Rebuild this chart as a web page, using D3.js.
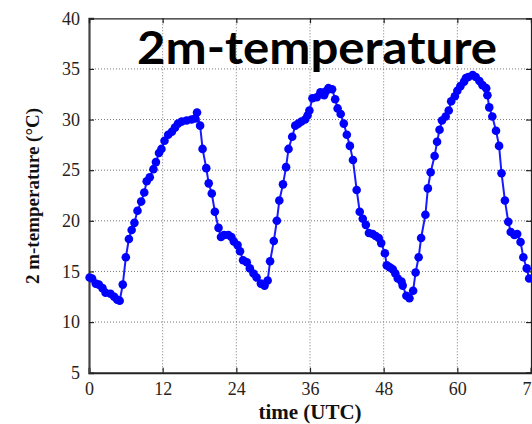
<!DOCTYPE html>
<html><head><meta charset="utf-8">
<script src="https://cdn.jsdelivr.net/npm/d3@7"></script>
<style>body{margin:0;background:#fff;}svg{display:block;}</style>
</head><body>
<svg id="chart" width="532" height="424"></svg>
<script>
const title = "2m-temperature";
const xLabel = "time (UTC)";
const yLabel = "2 m-temperature (°C)";
const xTicks = [0, 12, 24, 36, 48, 60, 72];
const yTicks = [5, 10, 15, 20, 25, 30, 35, 40];
const hours = [0.1,0.5,1.1,1.6,2.2,2.7,3.5,4.1,4.6,5.0,5.5,6.0,6.5,6.95,7.4,7.9,8.5,9.0,9.4,9.9,10.5,10.9,11.4,11.8,12.3,12.9,13.5,14.0,14.5,15.1,15.9,16.7,17.3,17.6,18.1,18.5,19.1,19.5,20.0,20.5,21.1,21.5,22.0,22.7,23.2,23.6,24.2,24.6,25.1,25.7,26.2,26.8,27.3,28.0,28.6,29.1,29.5,30.1,30.6,31.0,31.6,32.1,32.5,33.1,33.6,34.1,34.6,35.2,35.6,35.9,36.4,37.1,37.7,38.3,38.6,39.0,39.6,40.1,40.5,41.0,41.5,42.0,42.5,43.0,43.6,44.1,44.6,45.1,45.6,46.2,46.7,47.2,47.6,48.2,48.5,49.0,49.5,49.9,50.3,50.9,51.1,51.7,52.2,52.8,53.2,53.7,54.1,54.8,55.2,55.65,56.3,56.7,57.1,57.5,58.1,58.6,59.0,59.6,60.0,60.5,61.1,61.4,61.8,62.5,63.0,63.6,64.1,64.7,64.9,65.2,65.7,66.3,66.8,67.2,67.75,68.3,68.7,69.3,69.75,70.3,70.75,71.3,71.7];
const temps = [14.4,14.3,13.8,13.7,13.35,12.9,12.8,12.5,12.2,12.1,13.7,16.4,18.2,19.1,19.8,21.0,21.9,22.8,23.9,24.3,25.1,25.8,26.7,27.1,27.9,28.5,28.8,29.2,29.6,29.8,29.9,30.0,30.1,30.7,29.4,27.1,25.2,23.7,22.7,20.9,19.3,18.4,18.6,18.6,18.4,17.95,17.6,17.0,16.1,15.9,15.3,14.8,14.4,13.8,13.6,14.1,16.0,18.0,20.0,22.0,23.6,25.3,27.1,28.3,29.4,29.6,29.8,30.0,30.4,30.9,32.1,32.2,32.7,32.4,32.8,33.1,33.0,32.0,31.1,30.55,29.6,28.5,27.4,26.0,23.05,20.9,20.2,19.6,18.8,18.7,18.5,18.3,17.8,16.8,15.6,15.4,15.2,14.8,14.3,14.0,13.6,12.6,12.35,13.1,14.9,16.4,18.3,20.6,23.2,24.8,26.4,27.8,29.0,29.9,30.3,30.9,31.8,32.3,32.85,33.3,33.75,34.1,34.2,34.4,34.2,33.8,33.4,33.1,32.4,31.2,30.3,28.9,27.4,24.7,22.0,19.9,18.9,18.6,18.7,17.9,16.4,15.3,14.3];

const data = hours.map((h, i) => ({t: h, v: temps[i]}));
const svg = d3.select("#chart");
const L = 89, R = 531, T = 18.3, B = 372.7;
const x = d3.scaleLinear().domain([0, 72]).range([L, R]);
const y = d3.scaleLinear().domain([5, 40]).range([B, T]);
const serif = "'Liberation Serif','Times New Roman',serif";

// grid
const g = svg.append("g");
g.selectAll(".gx").data(xTicks.slice(1, -1)).join("line")
  .attr("x1", d => x(d)).attr("x2", d => x(d)).attr("y1", T).attr("y2", B)
  .attr("stroke", "#777").attr("stroke-width", 1).attr("stroke-dasharray", "1,2");
g.selectAll(".gy").data(yTicks.slice(1, -1)).join("line")
  .attr("y1", d => y(d)).attr("y2", d => y(d)).attr("x1", L).attr("x2", R)
  .attr("stroke", "#777").attr("stroke-width", 1).attr("stroke-dasharray", "1,2");

// axes with inward ticks
const fmt = d3.format("d");
const axB = svg.append("g").attr("transform", `translate(0,${B})`)
  .call(d3.axisBottom(x).tickValues(xTicks).tickSize(-5).tickPadding(10).tickFormat(fmt));
const axL = svg.append("g").attr("transform", `translate(${L},0)`)
  .call(d3.axisLeft(y).tickValues(yTicks).tickSize(-5).tickPadding(9).tickFormat(fmt));
const axT = svg.append("g").attr("transform", `translate(0,${T})`)
  .call(d3.axisTop(x).tickValues(xTicks).tickSize(-5).tickFormat(""));
const axR = svg.append("g").attr("transform", `translate(${R},0)`)
  .call(d3.axisRight(y).tickValues(yTicks).tickSize(-5).tickFormat(""));
[axB, axL, axT, axR].forEach(a => {
  a.selectAll("path").attr("stroke", "#222").attr("stroke-width", 1.2);
  a.selectAll("line").attr("stroke", "#222").attr("stroke-width", 1.2);
  a.selectAll("text").attr("font-family", serif).attr("font-size", 18).attr("fill", "#2a2218");
});
axL.select("path").attr("stroke", "#444").attr("stroke-width", 2.2);
axB.select("path").attr("stroke-width", 2);

// line + points
svg.append("path").datum(data)
  .attr("fill", "none").attr("stroke", "#1a1aff").attr("stroke-width", 2)
  .attr("d", d3.line().x(d => x(d.t)).y(d => y(d.v)));
svg.append("g").selectAll("circle").data(data).join("circle")
  .attr("cx", d => x(d.t)).attr("cy", d => y(d.v)).attr("r", 4.3)
  .attr("fill", "#0000ff");

// labels
svg.append("text").attr("x", 310).attr("y", 419).attr("text-anchor", "middle")
  .attr("font-family", serif).attr("font-weight", "bold").attr("font-size", 21).attr("fill", "#111")
  .text(xLabel);
svg.append("text").attr("transform", "translate(39,196) rotate(-90)").attr("text-anchor", "middle")
  .attr("font-family", serif).attr("font-weight", "bold").attr("font-size", 19).attr("fill", "#111")
  .text(yLabel);
svg.append("text").attr("x", 137).attr("y", 64)
  .attr("font-family", "Lato, 'Open Sans', sans-serif").attr("font-weight", "bold").attr("font-size", 46)
  .attr("textLength", 360).attr("lengthAdjust", "spacingAndGlyphs").attr("fill", "#000")
  .text(title);
</script>
</body></html>
